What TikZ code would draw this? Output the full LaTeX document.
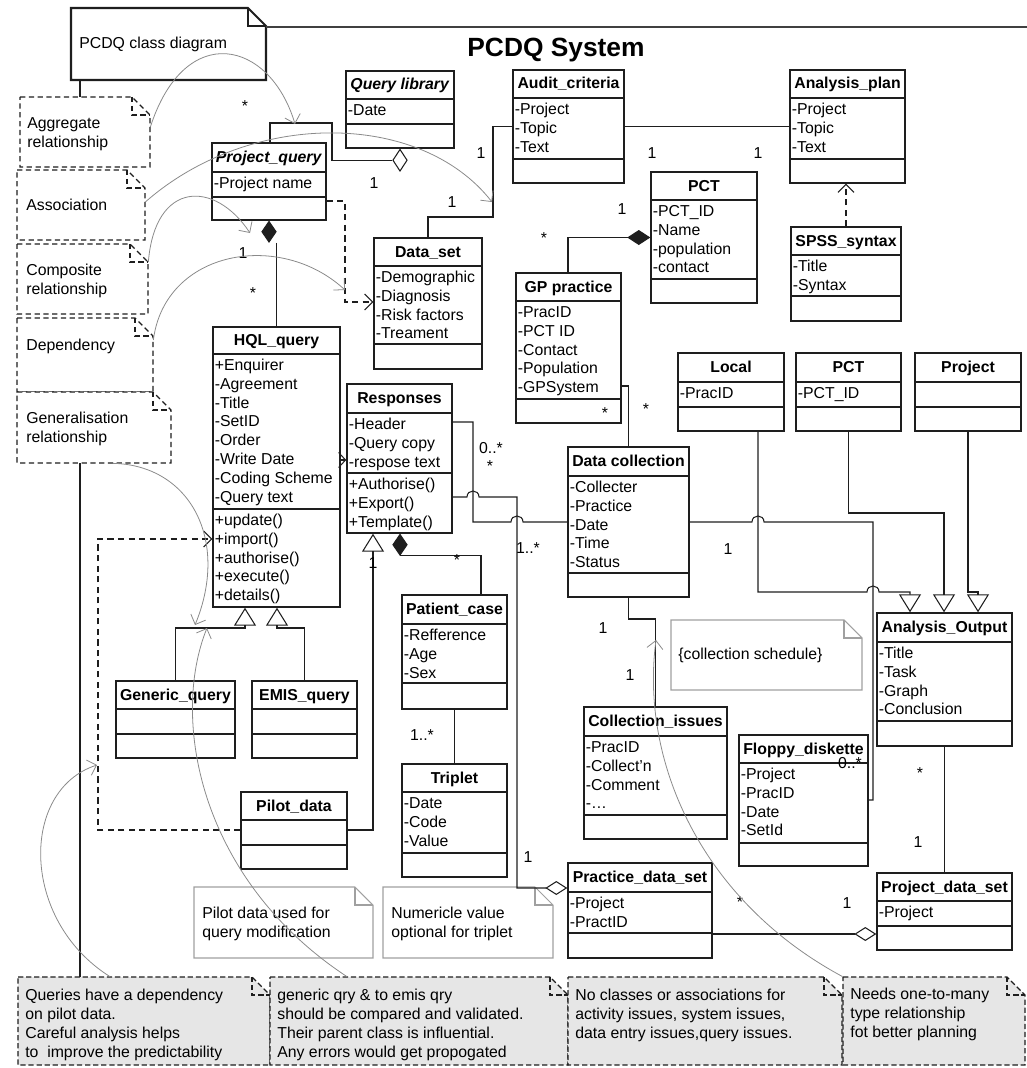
\documentclass[tikz,border=0pt]{standalone}
\usepackage{fontspec}
\setmainfont{Liberation Sans}
\usepackage{tikz}
\usetikzlibrary{arrows.meta,calc,fit,shapes.geometric}
\definecolor{linedark}{HTML}{1E1E1E}
\definecolor{hintgray}{HTML}{8A8A8A}
\definecolor{notefill}{HTML}{E6E6E6}
\definecolor{noteedge}{HTML}{A0A0A0}

% class: name, left/top, width, height, title rule, attribute rule, title, attributes, methods
\newcommand{\umlclass}[9]{%
  \coordinate (#1-nw) at (#2);
  \coordinate (#1-se) at ($(#2)+(#3,#4)$);
  \node[classbox,fit=(#1-nw)(#1-se)] (#1) {};
  \draw[classrule] ($(#2)+(0,#5)$) -- ++(#3,0);
  \draw[classrule] ($(#2)+(0,#6)$) -- ++(#3,0);
  \node[classtitle] at ($(#2)+(#3/2,#5/2+5)$) {#7};
  \foreach \entry[count=\idx] in {#8}
    \node[classtext] at ($(#2)+(1.5,#5+16.5+18.8*\idx-18.8)$) {\entry};
  \foreach \entry[count=\idx] in {#9}
    \node[classtext] at ($(#2)+(1.5,#6+16.5+18.8*\idx-18.8)$) {\entry};
}
% note with folded corner: name, style, left, top, right, bottom
\newcommand{\umlnote}[6]{%
  \draw[#2] (#3,#4) -- (#5-18,#4) -- (#5,#4+18) -- (#5,#6) -- (#3,#6) -- cycle;
  \draw[#2,fill=none] (#5-18,#4) |- (#5,#4+18);
  \coordinate (#1-nw) at (#3,#4);
  \coordinate (#1-se) at (#5,#6);
  \node[inner sep=0pt,fit=(#1-nw)(#1-se)] (#1) {};
}

\begin{document}
\begin{tikzpicture}[x=0.02cm,y=-0.02cm,
  font=\fontsize{9}{10.7}\selectfont,
  classbox/.style={draw=linedark,fill=white,line width=0.8pt,inner sep=0pt},
  classrule/.style={draw=linedark,line width=0.8pt},
  classtitle/.style={font=\fontsize{9}{10.7}\selectfont\bfseries,anchor=base,inner sep=0pt},
  classtext/.style={anchor=base west,inner sep=0pt},
  link/.style={draw=linedark,line width=0.6pt},
  dep/.style={link,dash pattern=on 3.5pt off 2.5pt,-{Straight Barb[length=0.16cm,width=0.32cm]}},
  gen/.style={link,-{Triangle[open,length=0.36cm,width=0.44cm]}},
  agg/.style={link,-{Diamond[open,length=0.44cm,width=0.28cm]}},
  comp/.style={link,-{Diamond[length=0.46cm,width=0.3cm]}},
  vdiamond/.style={diamond,draw=linedark,line width=0.6pt,inner sep=0pt,minimum width=0.29cm,minimum height=0.44cm,anchor=north},
  hint/.style={draw=hintgray,line width=0.45pt,-{Straight Barb[length=0.16cm,width=0.32cm]}},
  keynote/.style={draw=linedark,fill=white,line width=0.8pt,dash pattern=on 3pt off 2pt},
  remark/.style={draw=linedark,fill=notefill,line width=0.7pt,dash pattern=on 3pt off 1.6pt},
  memo/.style={draw=noteedge,fill=white,line width=0.6pt},
  notetext/.style={align=left,anchor=north west,inner sep=0pt},
  mult/.style={inner sep=0pt}]
  \useasboundingbox (0,0) rectangle (1027,1068);

  % notes
  \umlnote{cdnote}{draw=linedark,fill=white,line width=1.2pt}{71}{8}{266}{80}
  \umlnote{nagg}{keynote}{20}{97}{150}{167}
  \umlnote{nassoc}{keynote}{17}{170}{145}{240}
  \umlnote{ncomp}{keynote}{17}{244}{148}{314}
  \umlnote{ndep}{keynote}{17}{318}{153}{392}
  \umlnote{ngen}{keynote}{17}{392}{171}{463}
  \umlnote{nqa}{remark}{18}{977}{270}{1065}
  \umlnote{nqb}{remark}{270}{977}{568}{1065}
  \umlnote{nqc}{remark}{568}{977}{842}{1065}
  \umlnote{nqd}{remark}{843}{977}{1025}{1065}
  \umlnote{npilot}{memo}{194}{887}{373}{958}
  \umlnote{ntrip}{memo}{383}{887}{553}{958}
  \umlnote{nsched}{memo}{671}{620}{862}{690}

  \node[notetext] (cdtext) at (79,37) {PCDQ class diagram};
  \node[notetext] (tagg) at (27,117) {Aggregate\\relationship};
  \node[notetext] (tassoc) at (26,199) {Association};
  \node[notetext] (tcomp) at (26,264) {Composite\\relationship};
  \node[notetext] (tdep) at (26,339) {Dependency};
  \node[notetext] (tgen) at (26,412) {Generalisation\\relationship};
  \node[notetext] (tqa) at (25,989) {Queries have a dependency\\on pilot data.\\Careful analysis helps\\to\ \ improve the predictability};
  \node[notetext] (tqb) at (277,989) {generic qry \& to emis qry\\should be compared and validated.\\Their parent class is influential.\\Any errors would get propogated};
  \node[notetext] (tqc) at (575,989) {No classes or associations for\\activity issues, system issues,\\data entry issues,query issues.};
  \node[notetext] (tqd) at (850,988) {Needs one-to-many\\type relationship\\fot better planning};
  \node[notetext] (tpilot) at (202,907) {Pilot data used for\\query modification};
  \node[notetext] (ttrip) at (391,907) {Numericle value\\optional for triplet};
  \node[notetext] (tsched) at (678,648) {\{collection schedule\}};

  \node[font=\fontsize{15}{18}\selectfont\bfseries] (title) at (556,50) {PCDQ System};
  \coordinate (frameend) at (1027,27);
  \draw[linedark!85,line width=1pt] (cdnote.east |- 0,27) -- (frameend);
  \draw[link,line width=0.8pt] (cdnote.south -| 80,0) -- (nagg.north -| 80,0);
  \draw[link,line width=0.8pt] (ngen.south -| 80,0) -- (nqa.north -| 80,0);

  % classes
  \umlclass{qlib}{346,71}{108}{77}{28}{53}{\textit{Query library}}{-Date}{}
  \umlclass{pq}{212,143}{114}{77}{29}{54}{\textit{Project\_query}}{-Project name}{}
  \umlclass{audit}{513,70}{111}{113}{28}{89}{Audit\_criteria}{-Project,-Topic,-Text}{}
  \umlclass{aplan}{790,70}{115}{113}{28}{89}{Analysis\_plan}{-Project,-Topic,-Text}{}
  \umlclass{pct}{651,172}{106}{131}{28}{107}{PCT}{-PCT\_ID,-Name,-population,-contact}{}
  \umlclass{spss}{791,227}{110}{94}{28}{69}{SPSS\_syntax}{-Title,-Syntax}{}
  \umlclass{dset}{374,238}{108}{131}{28}{106}{Data\_set}{-Demographic,-Diagnosis,-Risk factors,-Treament}{}
  \umlclass{gp}{516,273}{105}{150}{28}{126}{GP practice}{-PracID,-PCT ID,-Contact,-Population,-GPSystem}{}
  \umlclass{hql}{213,327}{127}{280}{27}{182}{HQL\_query}{+Enquirer,-Agreement,-Title,-SetID,-Order,-Write Date,-Coding Scheme,-Query text}{+update(),+import(),+authorise(),+execute(),+details()}
  \umlclass{resp}{347,384}{105}{149}{29}{89}{Responses}{-Header,-Query copy,-respose text}{+Authorise(),+Export(),+Template()}
  \umlclass{dcoll}{568,447}{121}{150}{29}{126}{Data collection}{-Collecter,-Practice,-Date,-Time,-Status}{}
  \umlclass{local}{678,353}{106}{78}{29}{54}{Local}{-PracID}{}
  \umlclass{pct2}{796,353}{105}{78}{29}{54}{PCT}{-PCT\_ID}{}
  \umlclass{proj}{915,353}{106}{78}{29}{54}{Project}{}{}
  \umlclass{aout}{877,613}{135}{133}{29}{108}{Analysis\_Output}{-Title,-Task,-Graph,-Conclusion}{}
  \umlclass{floppy}{739,735}{129}{131}{28}{108}{Floppy\_diskette}{-Project,-PracID,-Date,-SetId}{}
  \umlclass{ciss}{584,707}{143}{132}{29}{108}{Collection\_issues}{-PracID,-Collect'n,-Comment,-\ldots}{}
  \umlclass{pjds}{877,873}{135}{77}{28}{53}{Project\_data\_set}{-Project}{}
  \umlclass{pds}{568,863}{144}{95}{29}{70}{Practice\_data\_set}{-Project,-PractID}{}
  \umlclass{pcase}{402,595}{105}{114}{29}{88}{Patient\_case}{-Refference,-Age,-Sex}{}
  \umlclass{triplet}{402,764}{105}{113}{28}{89}{Triplet}{-Date,-Code,-Value}{}
  \umlclass{generic}{116,681}{119}{77}{28}{53}{Generic\_query}{}{}
  \umlclass{emis}{252,681}{105}{77}{28}{53}{EMIS\_query}{}{}
  \umlclass{pilot}{241,792}{106}{77}{28}{53}{Pilot\_data}{}{}

  % relationships
  \node[vdiamond,fill=white] (qdia) at (qlib.south) {};
  \node[vdiamond,fill=linedark,minimum height=0.42cm] (cdia) at (pq.south) {};
  \node[vdiamond,fill=linedark,minimum height=0.42cm] (rdia) at (resp.south -| 400,0) {};
  \draw[link] (pq.north -| 270,0) |- (332,123) |- (qdia.west);
  \draw[link] (cdia.south -| hql.north) -- (hql.north);
  \draw[dep] (pq.east |- 0,201) -| (345,302) -- (dset.west |- 0,302);
  \draw[link] (dset.north -| 428,0) |- (493,217) |- (audit.west);
  \draw[link] (audit.east) -- (aplan.west);
  \draw[dep] (spss.north) -- (spss.north |- aplan.south);
  \draw[comp] (gp.north -| 568,0) |- (pct.west);
  \draw[link] (gp.east |- 0,386) -| (dcoll.north);
  \draw[link] (resp.east |- 0,422) -| (473,522) -- (511,522)
    .. controls (511,514) and (523,514) .. (523,522) -- (dcoll.west |- 0,522);
  \draw[agg] (resp.east |- 0,497) -- (467,497)
    .. controls (467,489) and (479,489) .. (479,497) -| (517,888) -- (pds.west |- 0,888);
  \draw[link] (dcoll.east |- 0,522) -- (752,522)
    .. controls (752,514) and (764,514) .. (764,522) -- (873,522) -- (873,800) -- (floppy.east |- 0,800);
  \draw[gen] (local.south -| 758,0) -- (758,592) -- (867,592)
    .. controls (867,584) and (879,584) .. (879,592) -- (910,592) -- (aout.north -| 910,0);
  \draw[gen] (pct2.south) |- (944,513) -- (aout.north -| 944,0);
  \draw[gen] (proj.south) |- (978,592) -- (aout.north -| 978,0);
  \draw[link] (aout.south) -- (pjds.north);
  \draw[agg] (pds.east |- 0,934) -- (pjds.west |- 0,934);
  \draw[link] (dcoll.south) |- (ciss.north |- 0,619) -- (ciss.north);
  \draw[link] (rdia.south) -| (pcase.north -| 481,0);
  \draw[link] (pcase.south) -- (triplet.north);
  \draw[gen] (pilot.east |- 0,830) -| (resp.south -| 373,0);
  \draw[gen] (generic.north) |- (245,628) -- (hql.south -| 245,0);
  \draw[gen] (emis.north) |- (277,628) -- (hql.south -| 277,0);
  \draw[dep] (pilot.west |- 0,830) -| (98,539) -- (hql.west |- 0,539);
  \draw[link,-{Straight Barb[length=0.14cm,width=0.3cm]}] (hql.east |- 0,460) -- (resp.west |- 0,460);

  % multiplicities
  \foreach \px/\py/\txt [count=\n] in {245/106/*,374/183/1,243/253/1,253/293/*,452/202/1,
      481/153/1,652/153/1,758/153/1,622/209/1,544/238/*,605/413/*,646/409/*,491/448/0..*,
      490/466/*,528/548/1..*,373/563/1,457/560/*,422/735/1..*,528/857/1,728/549/1,
      850/763/0..*,603/628/1,630/675/1,920/773/*,918/842/1,740/902/*,847/903/1}
    \node[mult] (m\n) at (\px,\py) {\txt};

  % note pointers
  \coordinate (hagg) at (295,124);
  \coordinate (hassoc) at (492,202);
  \coordinate (hcomp) at (250,233);
  \coordinate (hdep) at (345,290);
  \coordinate (hgen) at (195,625);
  \coordinate (hqa) at (97,765);
  \coordinate (hqb) at (207,628);
  \coordinate (hqd) at (656,640);
  \draw[hint] (nagg.east |- 0,127) .. controls (185,20) and (270,40) .. (hagg);
  \draw[hint] (nassoc.east |- 0,202) .. controls (250,110) and (420,110) .. (hassoc);
  \draw[hint] (ncomp.east |- 0,262) .. controls (155,180) and (215,180) .. (hcomp);
  \draw[hint] (ndep.east |- 0,340) .. controls (165,250) and (280,230) .. (hdep);
  \draw[hint] (ngen.south -| 113,0) .. controls (190,465) and (230,540) .. (hgen);
  \draw[hint] (nqa.north -| 110,0) .. controls (20,920) and (20,790) .. (hqa);
  \draw[hint] (nqb.north -| 347,0) .. controls (200,880) and (170,720) .. (hqb);
  \draw[hint] (nqd.north west) .. controls (700,900) and (640,760) .. (hqd);
\end{tikzpicture}
\end{document}
